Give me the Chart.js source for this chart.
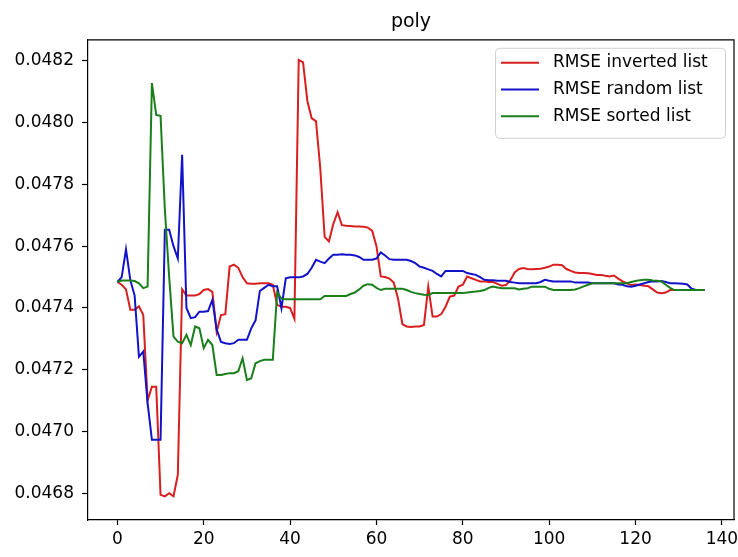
<!DOCTYPE html>
<html>
<head>
<meta charset="utf-8">
<script src="https://cdn.jsdelivr.net/npm/chart.js@4/dist/chart.umd.min.js"></script>
<style>
  html, body { margin: 0; padding: 0; background: #fff; }
  #wrap { width: 738px; height: 557px; position: relative; }
</style>
</head>
<body>
<div id="wrap"><canvas id="chart"></canvas></div>
<script>
// values, index 0..136
const invertedList = [
  0.047484, 0.047475, 0.047460, 0.047394, 0.047394, 0.047405, 0.047377, 0.047100, 0.047145, 0.047145,
  0.046795, 0.046790, 0.046800, 0.046790, 0.046860, 0.047460, 0.047440, 0.047440, 0.047440, 0.047445,
  0.047458, 0.047461, 0.047452, 0.047323, 0.047377, 0.047380, 0.047534, 0.047540, 0.047530, 0.047500,
  0.047480, 0.047478, 0.047478, 0.047480, 0.047480, 0.047480, 0.047475, 0.047410, 0.047404, 0.047404,
  0.047400, 0.047365, 0.048203, 0.048195, 0.048070, 0.048014, 0.048005, 0.047850, 0.047630, 0.047615,
  0.047672, 0.047710, 0.047668, 0.047666, 0.047665, 0.047664, 0.047664, 0.047663, 0.047660, 0.047650,
  0.047600, 0.047502, 0.047500, 0.047495, 0.047482, 0.047430, 0.047348, 0.047340, 0.047338, 0.047340,
  0.047340, 0.047345, 0.047469, 0.047372, 0.047372, 0.047380, 0.047404, 0.047437, 0.047440, 0.047469,
  0.047475, 0.047502, 0.047496, 0.047491, 0.047486, 0.047486, 0.047484, 0.047484, 0.047478, 0.047472,
  0.047474, 0.047490, 0.047515, 0.047526, 0.047529, 0.047526, 0.047525, 0.047526, 0.047527, 0.047530,
  0.047534, 0.047540, 0.047540, 0.047538, 0.047526, 0.047520, 0.047515, 0.047513, 0.047513, 0.047512,
  0.047510, 0.047507, 0.047507, 0.047504, 0.047502, 0.047505, 0.047495, 0.047486, 0.047480, 0.047474,
  0.047476, 0.047474, 0.047472, 0.047470, 0.047460, 0.047450, 0.047448, 0.047450, 0.047458, 0.047458,
  0.047458, 0.047458, 0.047458, 0.047458, 0.047458, 0.047458, 0.047458
];

const randomList = [
  0.047484, 0.047500, 0.047590, 0.047490, 0.047440, 0.047242, 0.047259, 0.047093, 0.046973, 0.046973,
  0.046973, 0.047653, 0.047653, 0.047600, 0.047560, 0.047896, 0.047400, 0.047367, 0.047370, 0.047388,
  0.047388, 0.047390, 0.047426, 0.047330, 0.047290, 0.047286, 0.047283, 0.047286, 0.047297, 0.047297,
  0.047297, 0.047334, 0.047360, 0.047455, 0.047465, 0.047475, 0.047470, 0.047470, 0.047399, 0.047496,
  0.047499, 0.047499, 0.047499, 0.047502, 0.047510, 0.047530, 0.047556, 0.047550, 0.047545, 0.047560,
  0.047572, 0.047572, 0.047574, 0.047572, 0.047572, 0.047570, 0.047565, 0.047556, 0.047556, 0.047556,
  0.047560, 0.047580, 0.047570, 0.047558, 0.047556, 0.047556, 0.047556, 0.047556, 0.047552, 0.047545,
  0.047534, 0.047530, 0.047525, 0.047520, 0.047510, 0.047502, 0.047520, 0.047520, 0.047520, 0.047520,
  0.047520, 0.047513, 0.047510, 0.047507, 0.047500, 0.047491, 0.047490, 0.047490, 0.047488, 0.047488,
  0.047488, 0.047484, 0.047482, 0.047480, 0.047480, 0.047480, 0.047480, 0.047480, 0.047484, 0.047491,
  0.047488, 0.047486, 0.047486, 0.047486, 0.047486, 0.047486, 0.047482, 0.047482, 0.047482, 0.047482,
  0.047480, 0.047480, 0.047480, 0.047480, 0.047480, 0.047480, 0.047476, 0.047475, 0.047470, 0.047469,
  0.047472, 0.047476, 0.047480, 0.047484, 0.047486, 0.047486, 0.047487, 0.047484, 0.047480, 0.047480,
  0.047479, 0.047478, 0.047476, 0.047462, 0.047458, 0.047458, 0.047458
];

const sortedList = [
  0.047484, 0.047489, 0.047489, 0.047489, 0.047487, 0.047480, 0.047464, 0.047469, 0.048128, 0.048025,
  0.048022, 0.047718, 0.047500, 0.047307, 0.047291, 0.047286, 0.047313, 0.047280, 0.047340, 0.047334,
  0.047270, 0.047297, 0.047280, 0.047183, 0.047183, 0.047186, 0.047189, 0.047189, 0.047195, 0.047237,
  0.047167, 0.047172, 0.047221, 0.047228, 0.047232, 0.047232, 0.047232, 0.047450, 0.047430, 0.047428,
  0.047428, 0.047428, 0.047428, 0.047428, 0.047428, 0.047428, 0.047428, 0.047428, 0.047439, 0.047439,
  0.047439, 0.047439, 0.047439, 0.047439, 0.047445, 0.047450, 0.047460, 0.047472, 0.047477, 0.047475,
  0.047465, 0.047458, 0.047462, 0.047462, 0.047462, 0.047462, 0.047462, 0.047458, 0.047452, 0.047448,
  0.047445, 0.047443, 0.047442, 0.047448, 0.047448, 0.047448, 0.047448, 0.047448, 0.047448, 0.047448,
  0.047448, 0.047450, 0.047452, 0.047453, 0.047455, 0.047458, 0.047465, 0.047469, 0.047466, 0.047464,
  0.047464, 0.047464, 0.047464, 0.047460, 0.047462, 0.047464, 0.047469, 0.047469, 0.047469, 0.047469,
  0.047462, 0.047458, 0.047458, 0.047458, 0.047458, 0.047458, 0.047460, 0.047464, 0.047470, 0.047475,
  0.047480, 0.047480, 0.047480, 0.047480, 0.047480, 0.047480, 0.047480, 0.047480, 0.047480, 0.047484,
  0.047487, 0.047490, 0.047491, 0.047491, 0.047489, 0.047488, 0.047486, 0.047475, 0.047465, 0.047458,
  0.047458, 0.047458, 0.047458, 0.047458, 0.047458, 0.047458, 0.047458
];

const seriesLabels = ['RMSE inverted list', 'RMSE random list', 'RMSE sorted list'];
const seriesColors = ['#d81e1e', '#1212c8', '#1a7f1a'];
const xTicks = [0, 20, 40, 60, 80, 100, 120, 140];
const yTicks = [0.0468, 0.0470, 0.0472, 0.0474, 0.0476, 0.0478, 0.0480, 0.0482];

const FONT = 'DejaVu Sans';

function toPoints(values) {
    return values.map((v, i) => ({ x: i, y: v }));
}

// matplotlib style box: top and right spines
const frame = {
    id: 'frame',
    afterDatasetsDraw(chart) {
        const { ctx, chartArea: a } = chart;
        ctx.save();
        ctx.strokeStyle = '#000';
        ctx.lineWidth = 1.2;
        ctx.beginPath();
        ctx.moveTo(a.left, a.top);
        ctx.lineTo(a.right, a.top);
        ctx.lineTo(a.right, a.bottom);
        ctx.stroke();
        ctx.restore();
    }
};

// legend in the upper right corner of the plot
const boxLegend = {
    id: 'boxLegend',
    afterDraw(chart) {
        const { ctx, chartArea: a } = chart;
        const w = 230, h = 90;
        const x = a.right - 9 - w, y = a.top + 8;
        ctx.save();
        ctx.fillStyle = 'rgba(255,255,255,0.8)';
        ctx.strokeStyle = '#d0d0d0';
        ctx.lineWidth = 1;
        ctx.beginPath();
        ctx.roundRect(x + 0.5, y + 0.5, w, h, 4);
        ctx.fill();
        ctx.stroke();
        ctx.font = '17px "' + FONT + '"';
        ctx.textBaseline = 'middle';
        chart.data.datasets.forEach((ds, i) => {
            const cy = y + 15 + i * 26.7;
            ctx.strokeStyle = ds.borderColor;
            ctx.lineWidth = 2;
            ctx.beginPath();
            ctx.moveTo(x + 6, cy);
            ctx.lineTo(x + 44, cy);
            ctx.stroke();
            ctx.fillStyle = '#000';
            ctx.fillText(ds.label, x + 58, cy);
        });
        ctx.restore();
    }
};

const ctx = document.getElementById('chart').getContext('2d');
new Chart(ctx, {
    type: 'line',
    data: {
        datasets: [
            { label: seriesLabels[0], data: toPoints(invertedList), borderColor: seriesColors[0], order: 2 },
            { label: seriesLabels[1], data: toPoints(randomList), borderColor: seriesColors[1], order: 1 },
            { label: seriesLabels[2], data: toPoints(sortedList), borderColor: seriesColors[2], order: 0 }
        ]
    },
    options: {
        responsive: true,
        maintainAspectRatio: false,
        animation: false,
        elements: {
            line: { borderWidth: 2, tension: 0, fill: false },
            point: { radius: 0, hoverRadius: 0 }
        },
        layout: { padding: { left: 0, right: 4, top: 0, bottom: 0 } },
        plugins: {
            legend: { display: false },
            tooltip: { enabled: false },
            title: {
                display: true,
                text: 'poly',
                fullSize: false,
                color: '#000',
                font: { family: FONT, size: 19, weight: 'normal' },
                padding: { top: 11, bottom: 6 }
            }
        },
        scales: {
            x: {
                type: 'linear',
                min: -6.8,
                max: 142.8,
                afterBuildTicks: (scale) => { scale.ticks = xTicks.map(v => ({ value: v })); },
                afterFit: (scale) => {
                    scale.height = 37;
                    scale.paddingLeft = 0;
                    scale.paddingRight = 0;
                },
                grid: { display: true, drawOnChartArea: false, drawTicks: true, tickLength: 5, color: '#000', tickWidth: 1.2 },
                border: { display: true, color: '#000', width: 1.2 },
                ticks: {
                    color: '#000',
                    font: { family: FONT, size: 17 },
                    padding: 4,
                    maxRotation: 0,
                    autoSkip: false
                }
            },
            y: {
                type: 'linear',
                min: 0.0467136,
                max: 0.048268,
                afterBuildTicks: (scale) => { scale.ticks = yTicks.map(v => ({ value: v })); },
                afterFit: (scale) => {
                    scale.width = 88;
                    scale.paddingTop = 0;
                    scale.paddingBottom = 0;
                },
                grid: { display: true, drawOnChartArea: false, drawTicks: true, tickLength: 6, color: '#000', tickWidth: 1.2 },
                border: { display: true, color: '#000', width: 1.2 },
                ticks: {
                    color: '#000',
                    font: { family: FONT, size: 17 },
                    padding: 8,
                    autoSkip: false,
                    callback: (v) => v.toFixed(4)
                }
            }
        }
    },
    plugins: [frame, boxLegend]
});
</script>
</body>
</html>
